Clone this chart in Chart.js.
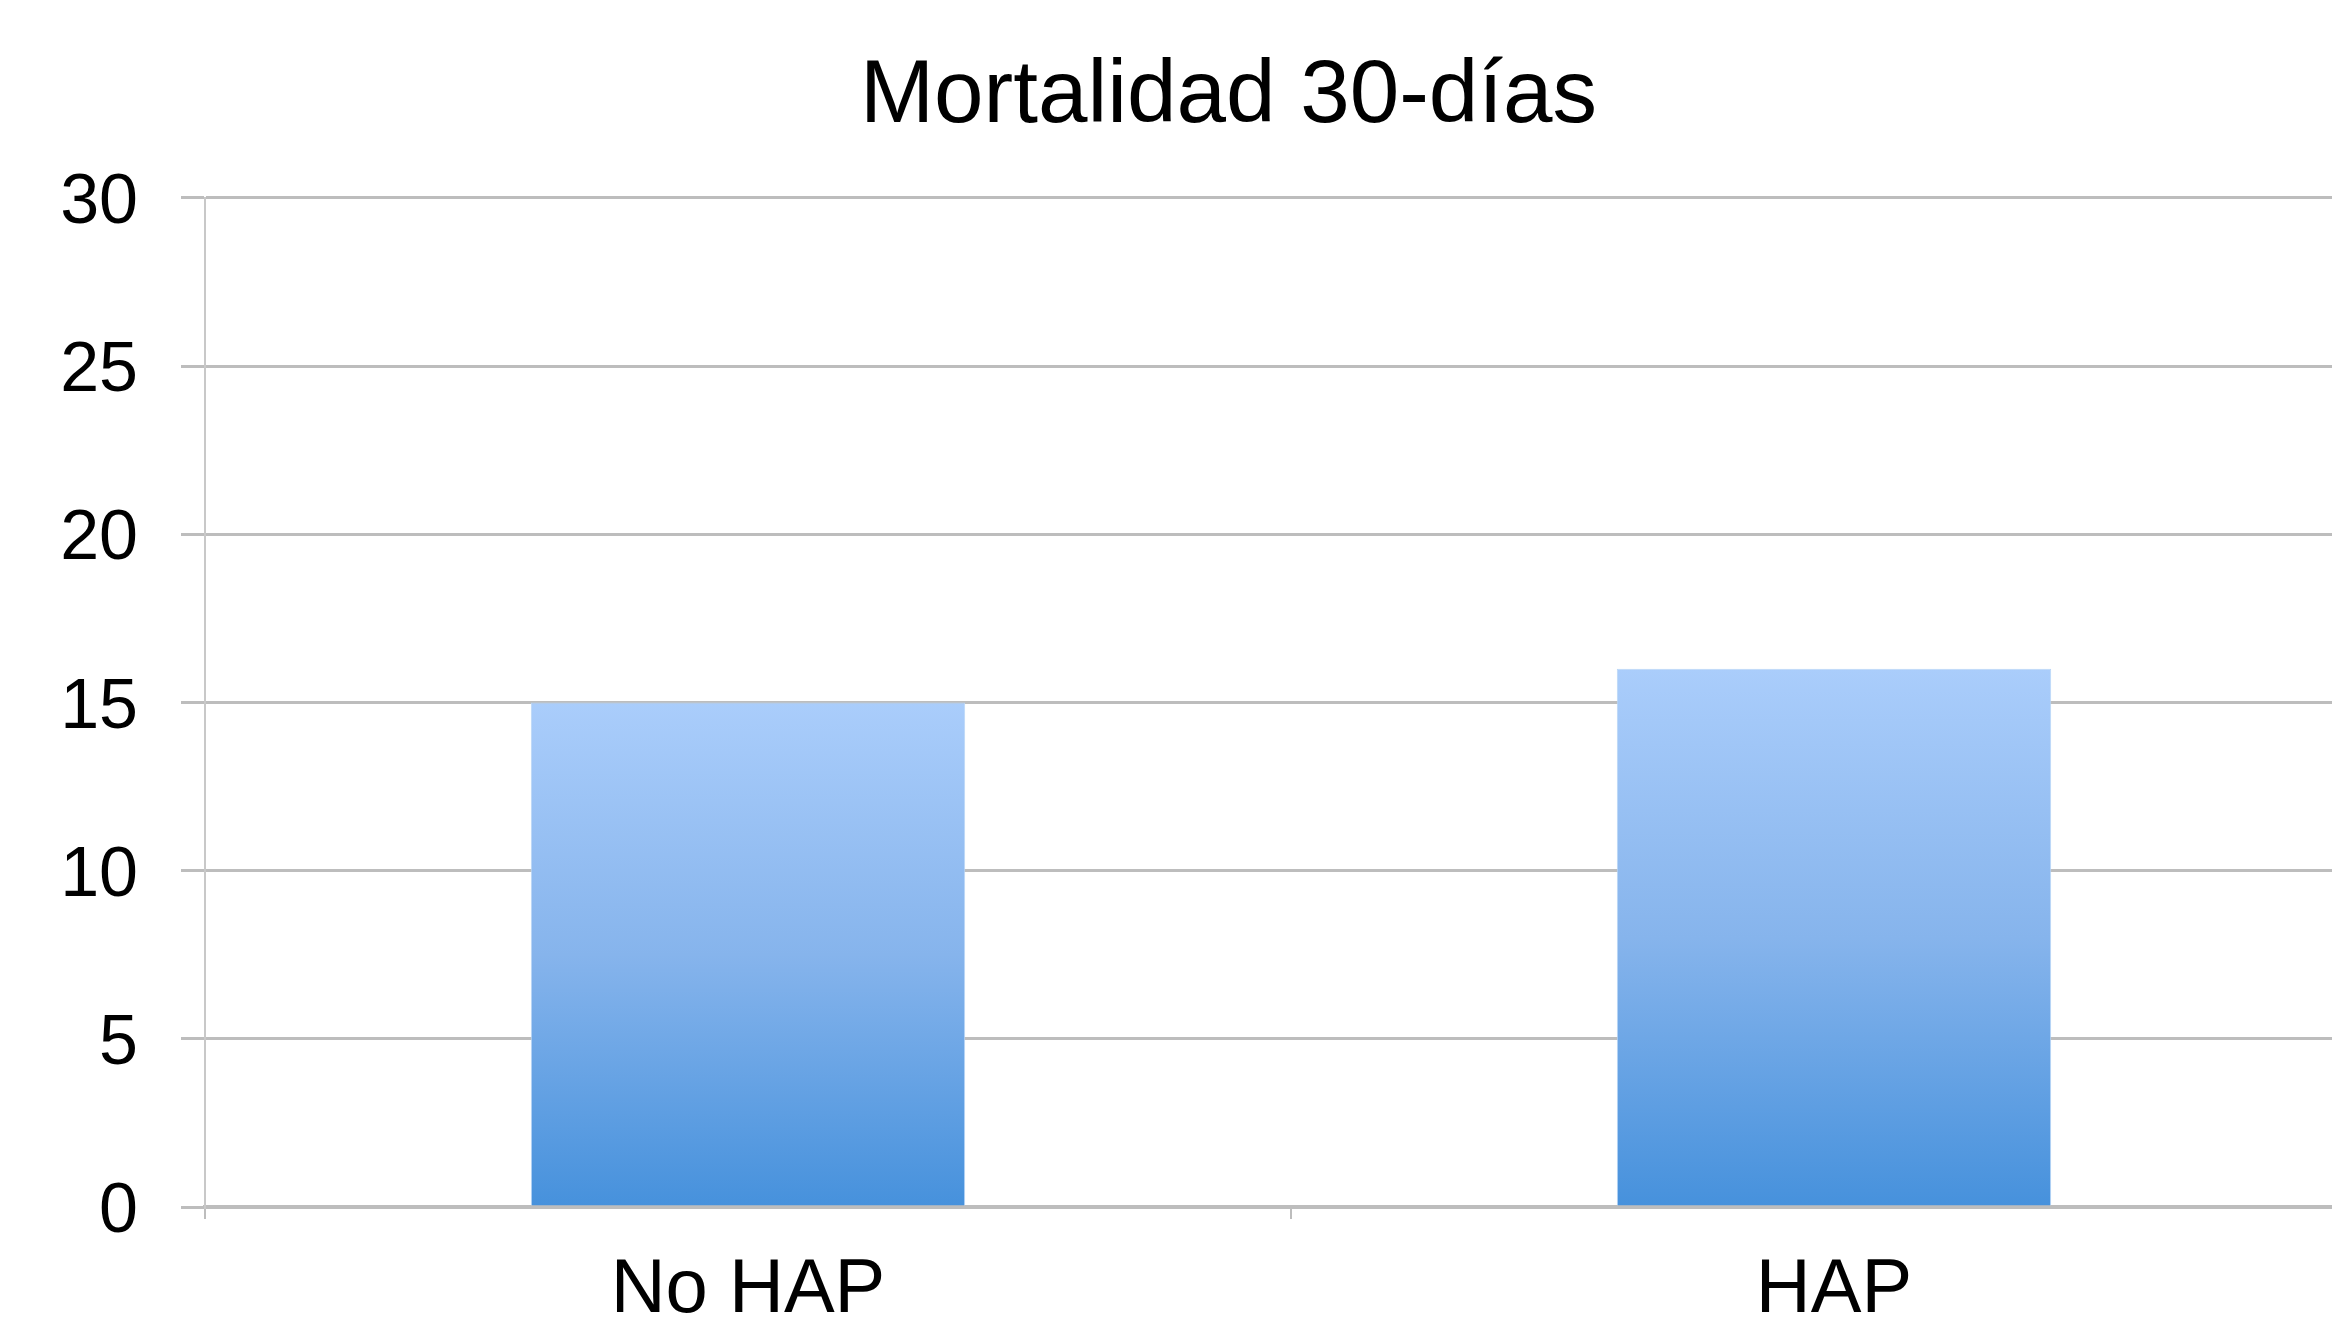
<!DOCTYPE html>
<html lang="es">
<head>
    <meta charset="UTF-8">
    <title>Mortalidad 30-días</title>
    <script src="https://cdn.jsdelivr.net/npm/chart.js"></script>
    <style>
        html, body {
            margin: 0;
            padding: 0;
            background: #ffffff;
            overflow: hidden;
        }
        /* the plot runs a little past the right edge, as in the original slide */
        .chart-box {
            width: 2377px;
            height: 1320px;
        }
    </style>
</head>
<body>

<div class="chart-box">
    <canvas id="mortalityChart"></canvas>
</div>

<script>
    const categories = ['No HAP', 'HAP'];
    const mortality = [15, 16];
    const yTicks = [0, 5, 10, 15, 20, 25, 30];

    const FONT = "'Liberation Sans', Arial, sans-serif";
    const GRID = '#bdbdbd';

    // vertical gradient per bar, light on top, darker blue at the base
    function barFill(context) {
        const chart = context.chart;
        const area = chart.chartArea;
        if (!area) return '#7fb0ea';
        const yScale = chart.scales.y;
        const top = yScale.getPixelForValue(context.parsed ? context.parsed.y : 0);
        const base = yScale.getPixelForValue(0);
        const g = chart.ctx.createLinearGradient(0, top, 0, base);
        g.addColorStop(0, '#aacdfb');
        g.addColorStop(0.5, '#86b4ec');
        g.addColorStop(1, '#4691dc');
        return g;
    }

    // title sits a bit right of the canvas centre in the original
    const shiftTitle = {
        id: 'shiftTitle',
        afterLayout(chart) {
            if (chart.titleBlock) chart.titleBlock.left = 80;
        }
    };

    const ctx = document.getElementById('mortalityChart').getContext('2d');
    new Chart(ctx, {
        type: 'bar',
        data: {
            labels: categories,
            datasets: [{
                label: 'Mortalidad 30-días',
                data: mortality,
                backgroundColor: barFill,
                borderColor: '#b9d6f7',
                borderWidth: 1,
                categoryPercentage: 1.0,
                barPercentage: 0.4
            }]
        },
        plugins: [shiftTitle],
        options: {
            responsive: true,
            maintainAspectRatio: false,
            animation: false,
            layout: {
                padding: 0
            },
            plugins: {
                legend: { display: false },
                tooltip: { enabled: false },
                title: {
                    display: true,
                    text: 'Mortalidad 30-días',
                    color: '#000000',
                    font: { family: FONT, size: 89, weight: 'normal' },
                    padding: { top: 44, bottom: 47 }
                }
            },
            scales: {
                x: {
                    grid: {
                        offset: true,
                        drawOnChartArea: false,
                        drawTicks: true,
                        tickLength: 12,
                        color: GRID,
                        lineWidth: 2
                    },
                    border: { display: true, color: GRID, width: 4 },
                    ticks: {
                        color: '#000000',
                        font: { family: FONT, size: 76 },
                        padding: 26
                    },
                    afterFit: (scale) => { scale.height = 113; }
                },
                y: {
                    min: 0,
                    max: 30,
                    afterBuildTicks: (scale) => {
                        scale.ticks = yTicks.map(v => ({ value: v }));
                    },
                    grid: {
                        color: GRID,
                        lineWidth: 3,
                        drawTicks: true,
                        tickLength: 24
                    },
                    border: { display: true, color: '#c8c8c8', width: 2 },
                    ticks: {
                        color: '#000000',
                        font: { family: FONT, size: 70 },
                        padding: 43,
                        labelOffset: 6
                    },
                    afterFit: (scale) => { scale.width = 205; }
                }
            }
        }
    });
</script>

</body>
</html>
